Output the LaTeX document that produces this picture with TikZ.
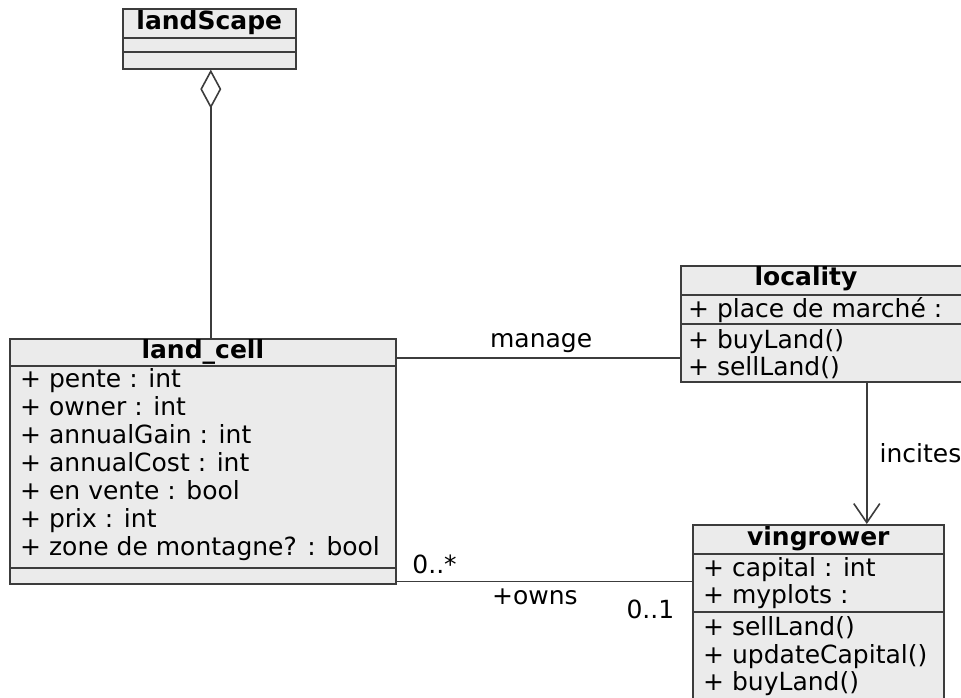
\documentclass[tikz,border=0pt]{standalone}
\usepackage{fontspec}
\setmainfont{DejaVu Sans}
\usetikzlibrary{arrows.meta,calc}
\definecolor{boxgray}{HTML}{EBEBEB}
\definecolor{linegray}{HTML}{3C3C3C}
\tikzset{
	classbox/.style={draw=linegray,fill=boxgray,line width=1.6pt,inner sep=0pt,anchor=north west},
	sepline/.style={draw=linegray,line width=1.6pt},
	member/.style={anchor=base west,inner sep=0pt,font=\fontsize{25}{29}\selectfont},
	cname/.style={anchor=base,inner sep=0pt,font=\bfseries\fontsize{25}{29}\selectfont},
	lbl/.style={inner sep=0pt,font=\fontsize{25}{29}\selectfont},
	assoc/.style={draw=linegray,line width=1.6pt},
	aggr/.style={assoc,-{Diamond[open,length=39pt,width=21pt]}},
	incite/.style={assoc,-{Straight Barb[length=19pt,width=26pt]}},
}
\begin{document}
\begin{tikzpicture}[x=1pt,y=-1pt]
	\useasboundingbox (0,0) rectangle (961,698);
	\clip (0,0) rectangle (961,698);
	% classes
	\node[classbox,minimum width=173pt,minimum height=60pt] (landscape) at (122,8) {};
	\node[classbox,minimum width=386pt,minimum height=245pt] (landcell) at (9,338) {};
	\node[classbox,minimum width=372pt,minimum height=116pt] (locality) at (680,265) {};
	\node[classbox,minimum width=251pt,minimum height=200pt] (vingrower) at (692,524) {};
	% compartments
	\foreach \b/\a/\c in {landscape/30/44, landcell/28/230, locality/30/59, vingrower/30/88}{
		\draw[sepline] ($(\b.north west)+(0,\a)$)--($(\b.north east)+(0,\a)$);
		\draw[sepline] ($(\b.north west)+(0,\c)$)--($(\b.north east)+(0,\c)$);
	}
	% names
	\node[cname] (landscapeT) at ($(landscape.north)+(0,22)$) {landScape};
	\node[cname] (landcellT) at ($(landcell.north)+(0,20)$) {land\_cell};
	\node[cname] (localityT) at (806,285) {locality};
	\node[cname] (vingrowerT) at ($(vingrower.north)+(0,21)$) {vingrower};
	% members
	\foreach \t [count=\i] in {+ pente : int, + owner : int, + annualGain : int, + annualCost : int, + en vente : bool, + prix : int, + zone de montagne? : bool}{
		\node[member] (lc\i) at (20,359+28*\i) {\t};
	}
	\node[member] (loc1) at (688,317) {+ place de marché :};
	\node[member] (loc2) at (688,348) {+ buyLand()};
	\node[member] (loc3) at (688,375) {+ sellLand()};
	\foreach \t/\y [count=\i] in {+ capital : int/576, + myplots :/603, + sellLand()/635, + updateCapital()/663, + buyLand()/690}{
		\node[member] (vg\i) at (703,\y) {\t};
	}
	% relations
	\draw[aggr] ($(landcell.north -| landscape.south)+(1.5,0)$)--($(landscape.south)+(1.5,0)$);
	\coordinate (mng) at ($(landcell.north east)+(0,20)$);
	\draw[assoc] (mng)--node[lbl,above=5pt,pos=0.51]{manage} (mng -| locality.west);
	\draw[incite] (locality.south)--node[lbl,right=12pt]{incites} (locality.south |- vingrower.north);
	\coordinate (own) at ($(landcell.south east)+(0,-3)$);
	\draw[assoc] (own)
		--node[lbl,pos=0,anchor=base west,xshift=15pt,yshift=8pt]{0..*}
		node[lbl,pos=0.468,anchor=base,yshift=-23pt]{+owns}
		node[lbl,pos=1,anchor=base east,xshift=-17pt,yshift=-37pt]{0..1}
		(own -| vingrower.west);
\end{tikzpicture}
\end{document}
